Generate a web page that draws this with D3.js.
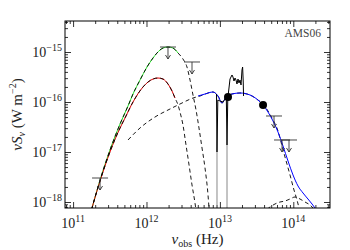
<!DOCTYPE html>
<html><head><meta charset="utf-8">
<script src="https://cdn.jsdelivr.net/npm/d3@7"></script>
<style>
body{margin:0;background:#fff}
svg{display:block}
text{font-family:"Liberation Serif","Times New Roman",serif;fill:#222}
</style>
</head><body>
<svg id="c" width="350" height="250"></svg>
<script>
// ---------------- data ----------------
// red modified black body (solid up to redSolidMax, dashed model over full range)
const redNu = [1.50e11,1.81e11,2.33e11,3.18e11,4.36e11,5.10e11,6.55e11,8.97e11,1.049e12,1.227e12,1.435e12,1.679e12,1.963e12,2.227e12,2.445e12,2.69e12,2.86e12,3.14e12,3.455e12,3.80e12,4.17e12,4.58e12,4.88e12];
const redS  = [2.75e-19,7.59e-19,2.63e-18,1.0e-17,3.02e-17,4.79e-17,1.0e-16,2.0e-16,2.51e-16,2.88e-16,3.02e-16,2.88e-16,2.29e-16,1.66e-16,1.20e-16,8.71e-17,6.31e-17,3.47e-17,1.38e-17,5.50e-18,2.19e-18,9.55e-19,4.79e-19];
const redSolidMax = 2.445e12;
// green modified black body
const greenNu = [1.50e11,1.81e11,2.33e11,3.18e11,4.36e11,5.60e11,6.55e11,8.16e11,1.016e12,1.227e12,1.39e12,1.679e12,1.963e12,2.297e12,2.69e12,3.14e12,3.56e12,3.92e12,4.30e12,4.73e12,5.19e12,5.71e12,6.27e12,6.89e12,7.11e12,7.57e12];
const greenS  = [2.75e-19,7.59e-19,2.75e-18,1.096e-17,3.63e-17,8.32e-17,1.445e-16,2.75e-16,5.01e-16,7.59e-16,9.55e-16,1.20e-15,1.259e-15,1.20e-15,9.55e-16,7.24e-16,5.01e-16,2.75e-16,1.38e-16,6.92e-17,3.02e-17,1.20e-17,4.79e-18,1.38e-18,7.59e-19,3.0e-19];
const greenSolidMax = 2.69e12;
// hot dust / torus component (dashed)
const torusNu = [5.60e11,8.16e11,1.306e12,2.09e12,2.86e12,4.30e12,5.36e12,8.05e12,9.42e12,1.068e13,1.211e13,1.462e13,1.88e13,2.57e13,3.30e13,3.87e13,4.52e13,5.29e13,6.19e13,6.80e13,7.71e13,9.02e13,1.022e14,1.123e14,1.234e14];
const torusS  = [1.738e-17,3.02e-17,5.01e-17,7.24e-17,9.12e-17,1.20e-16,1.318e-16,1.585e-16,1.318e-16,9.55e-17,1.259e-16,1.445e-16,1.514e-16,1.38e-16,1.096e-16,9.12e-17,6.61e-17,4.37e-17,2.63e-17,1.585e-17,7.94e-18,3.47e-18,1.738e-18,1.096e-18,6.31e-19];
// stellar component (dashed)
const starNu = [3.75e13,4.81e13,5.63e13,6.59e13,7.71e13,9.02e13,1.055e14,1.234e14,1.443e14,1.687e14,1.914e14];
const starS  = [5.75e-19,7.94e-19,9.12e-19,1.0e-18,1.047e-18,1.148e-18,1.259e-18,1.148e-18,1.0e-18,8.71e-19,7.24e-19];
// total mid-IR model (blue)
const blueNu = [5.03e12,6.27e12,8.05e12,9.42e12,1.068e13,1.211e13,1.462e13,1.88e13,2.57e13,3.30e13,3.87e13,4.52e13,5.29e13,6.19e13,7.24e13,8.47e13,9.91e13,1.159e14,1.356e14,1.585e14,1.80e14,1.975e14,2.17e14];
const blueS  = [1.318e-16,1.445e-16,1.585e-16,1.318e-16,9.55e-17,1.259e-16,1.445e-16,1.514e-16,1.38e-16,1.096e-16,8.71e-17,6.31e-17,4.17e-17,2.51e-17,1.318e-17,6.61e-18,3.47e-18,2.09e-18,1.514e-18,1.148e-18,9.12e-19,7.59e-19,6.31e-19];
// IRS spectrum
const specNu = [8.99e12,9.13e12,9.37e12,1.003e13,1.102e13,1.174e13,1.223e13,1.25e13,1.281e13,1.33e13,1.373e13,1.416e13,1.462e13,1.509e13,1.556e13,1.607e13,1.657e13,1.71e13,1.765e13,1.82e13,1.88e13,1.94e13,2.0e13,2.04e13,2.08e13,2.10e13];
const specS  = [1.445e-16,1.0e-17,1.096e-16,1.047e-16,1.0e-16,1.148e-16,1.259e-16,1.38e-17,1.20e-16,1.905e-16,2.88e-16,3.16e-16,3.47e-16,3.16e-16,2.63e-16,3.02e-16,2.75e-16,2.29e-16,2.88e-16,2.40e-16,2.75e-16,2.19e-16,4.37e-16,5.01e-16,2.51e-16,1.318e-16];
const specErrNu = [9.13e12,1.25e13];
const specErrHi = [1.0e-17,1.38e-17];
const specErrLo = [1.0e-19,1.0e-19];
// photometric detections
const detNu = [1.29e13,3.87e13];
const detS  = [1.259e-16,8.71e-17];
// upper limits
const ulNu = [2.33e11,1.963e12,4.17e12,5.46e13,7.02e13,8.74e13];
const ulS  = [3.02e-18,1.259e-15,6.31e-16,5.25e-17,1.738e-17,1.738e-17];
// ticks
const xMajor = [1e11,1e12,1e13,1e14];
const xExp = ["11","12","13","14"];
const yMajor = [1e-18,1e-17,1e-16,1e-15];
const yExp = ["\u221218","\u221217","\u221216","\u221215"];
const label = "AMS06";

// ---------------- drawing ----------------
const L=65,R=330,T=21,B=208;
const svg = d3.select("#c");
const x = d3.scaleLog().domain([7.76e10,3.162e14]).range([L,R]);
const y = d3.scaleLog().domain([7.586e-19,4.169e-15]).range([B,T]);

function minors(dom){
  const out=[];
  for(let e=-20;e<=16;e++){const d=Math.pow(10,e);for(let m=2;m<=9;m++){const v=m*d; if(v>dom[0]&&v<dom[1]) out.push(v);}}
  return out;
}
const xMinor = minors(x.domain()), yMinor = minors(y.domain());

function ax(gen, vals, size, tr){
  const g = svg.append("g").attr("transform",tr)
    .call(gen.tickValues(vals).tickSizeInner(size).tickSizeOuter(0).tickFormat(""));
  g.select(".domain").remove();
  g.selectAll("line").attr("stroke","#000").attr("stroke-width",0.8);
}
ax(d3.axisBottom(x), xMajor, -6, `translate(0,${B})`);
ax(d3.axisBottom(x), xMinor, -3, `translate(0,${B})`);
ax(d3.axisTop(x), xMajor, -6, `translate(0,${T})`);
ax(d3.axisTop(x), xMinor, -3, `translate(0,${T})`);
ax(d3.axisLeft(y), yMajor, -6, `translate(${L},0)`);
ax(d3.axisLeft(y), yMinor, -3, `translate(${L},0)`);
ax(d3.axisRight(y), yMajor, -6, `translate(${R},0)`);
ax(d3.axisRight(y), yMinor, -3, `translate(${R},0)`);

// tick labels
xMajor.forEach((v,i)=>{
  const t = svg.append("text").attr("x",x(v)).attr("y",228).attr("text-anchor","middle").style("font-size","14px");
  t.append("tspan").text("10");
  t.append("tspan").attr("dy",-6).style("font-size","10px").text(xExp[i]);
});
yMajor.forEach((v,i)=>{
  const t = svg.append("text").attr("x",62).attr("y",y(v)+5).attr("text-anchor","end").style("font-size","14px");
  t.append("tspan").text("10");
  t.append("tspan").attr("dy",-6).style("font-size","10px").text(yExp[i]);
});

// axis titles
const xt = svg.append("text").attr("x",(L+R)/2).attr("y",244).attr("text-anchor","middle").style("font-size","15px");
xt.append("tspan").style("font-style","italic").text("\u03bd");
xt.append("tspan").attr("dy",3).style("font-size","10px").text("obs");
xt.append("tspan").attr("dy",-3).text(" (Hz)");
const yt = svg.append("text").attr("transform",`translate(22,${(T+B)/2}) rotate(-90)`).attr("text-anchor","middle").style("font-size","15px");
yt.append("tspan").style("font-style","italic").text("\u03bdS");
yt.append("tspan").attr("dy",3).style("font-size","10px").style("font-style","italic").text("\u03bd");
yt.append("tspan").attr("dy",-3).text(" (W m");
yt.append("tspan").attr("dy",-6).style("font-size","10px").text("\u22122");
yt.append("tspan").attr("dy",6).text(")");

svg.append("text").attr("x",321).attr("y",37).attr("text-anchor","end").style("font-size","11.5px").style("fill","#444").text(label);

// plot area
svg.append("clipPath").attr("id","clip").append("rect").attr("x",L).attr("y",T).attr("width",R-L).attr("height",B-T);
const P = svg.append("g").attr("clip-path","url(#clip)");
const zip=(a,b)=>a.map((v,i)=>[v,b[i]]);
const curve = d3.line().x(d=>x(d[0])).y(d=>y(d[1])).curve(d3.curveMonotoneX);
const lin = d3.line().x(d=>x(d[0])).y(d=>y(d[1]));

const red = zip(redNu,redS), green = zip(greenNu,greenS);
P.append("path").attr("d",curve(green.filter(d=>d[0]<=greenSolidMax))).attr("fill","none").attr("stroke","#22e022").attr("stroke-width",1);
P.append("path").attr("d",curve(red.filter(d=>d[0]<=redSolidMax))).attr("fill","none").attr("stroke","#e00000").attr("stroke-width",1);
[green,red,zip(torusNu,torusS),zip(starNu,starS)].forEach(s=>{
  P.append("path").attr("d",curve(s)).attr("fill","none").attr("stroke","#000").attr("stroke-width",0.9).attr("stroke-dasharray","4,3");
});
P.append("path").attr("d",curve(zip(blueNu,blueS))).attr("fill","none").attr("stroke","#0000ff").attr("stroke-width",1);
// spectrum error
specErrNu.forEach((v,i)=>{
  P.append("line").attr("x1",x(v)).attr("x2",x(v)).attr("y1",y(specErrHi[i])).attr("y2",y(specErrLo[i])).attr("stroke","#888").attr("stroke-width",1);
});
P.append("path").attr("d",lin(zip(specNu,specS))).attr("fill","none").attr("stroke","#000").attr("stroke-width",1);

// detections
detNu.forEach((v,i)=>{
  P.append("circle").attr("cx",x(v)).attr("cy",y(detS[i])).attr("r",4).attr("fill","#000");
});
// upper limits
ulNu.forEach((v,i)=>{
  const cx=x(v), cy=y(ulS[i]);
  const g=P.append("g").attr("stroke","#333").attr("stroke-width",0.9).attr("fill","none");
  g.append("line").attr("x1",cx-8).attr("x2",cx+8).attr("y1",cy).attr("y2",cy);
  g.append("line").attr("x1",cx).attr("x2",cx).attr("y1",cy).attr("y2",cy+12);
  g.append("path").attr("d",`M${cx-2.5},${cy+8}L${cx},${cy+12}L${cx+2.5},${cy+8}`);
});

svg.append("rect").attr("x",L).attr("y",T).attr("width",R-L).attr("height",B-T).attr("fill","none").attr("stroke","#000").attr("stroke-width",1);
</script>
</body></html>
